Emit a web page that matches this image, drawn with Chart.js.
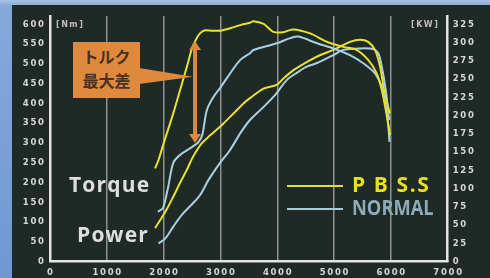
<!DOCTYPE html>
<html lang="ja">
<head>
<meta charset="UTF-8">
<title>Torque / Power</title>
<script src="https://cdn.jsdelivr.net/npm/chart.js"></script>
<style>
  html, body { margin: 0; padding: 0; }
  body { width: 490px; height: 278px; overflow: hidden; position: relative; background: linear-gradient(180deg, #a9c3e4 0px, #86a9da 6px, #6f98d2 100%); font-family: 'Open Sans', sans-serif; }
  .panel { position: absolute; left: 12px; top: 5px; right: 0; bottom: 0; background: #1f2a26; }
  #c { position: absolute; left: 0; top: 0; }
  .lbl { position: absolute; white-space: nowrap; line-height: 1; font-weight: bold; }
  .unit { font-family: 'DejaVu Sans', sans-serif; font-size: 8px; color: #bdbdbd; letter-spacing: 1.5px; }
  .big { font-size: 21px; color: #dedede; }
  .legline { position: absolute; height: 2px; width: 56px; left: 287px; }
  .box { position: absolute; left: 73px; top: 42px; width: 67px; height: 56px; background: #de8a3e; }
  .tip { position: absolute; left: 139px; top: 68px; width: 54px; height: 16px; background: #de8a3e; clip-path: polygon(0 0, 100% 55%, 0 100%); }
  .box span { display: block; text-align: center; font-family: 'Noto Sans CJK JP', sans-serif; font-weight: bold; font-size: 16px; color: #4b3020; line-height: 1; }
</style>
</head>
<body>
<div class="panel"></div>
<canvas id="c" width="490" height="278"></canvas>

<div class="lbl unit" style="left:56px; top:21px;">[Nm]</div>
<div class="lbl unit" style="left:411px; top:21px;">[KW]</div>

<div class="tip"></div>
<div class="box">
  <span style="margin-top:6px;">トルク</span>
  <span style="margin-top:8px;">最大差</span>
</div>

<div class="lbl big" style="left:69px; top:174px; letter-spacing:1.2px;">Torque</div>
<div class="lbl big" style="left:77px; top:224px; letter-spacing:1.2px;">Power</div>

<div class="legline" style="top:185px; background:#e4df2c;"></div>
<div class="legline" style="top:208px; background:#a9cadb;"></div>
<div class="lbl big" style="left:352px; top:174px; color:#e6df22; letter-spacing:1.6px;">P B S.S</div>
<div class="lbl big" style="left:352px; top:197px; color:#8eabbb; transform:scaleX(0.87); transform-origin:0 0;">NORMAL</div>

<script>
// torque [Nm], left axis
const torquePbssRpm = [1850, 1910, 2000, 2170, 2290, 2410, 2490, 2550, 2640, 2730, 2850, 2990, 3170, 3350, 3520, 3580, 3760, 3930, 4100, 4280, 4580, 4870, 5160, 5400, 5600, 5750, 5840, 5910, 5985];
const torquePbss = [236, 257, 299, 375, 434, 493, 535, 556, 577, 585, 584, 584, 590, 598, 604, 608, 601, 581, 580, 587, 577, 556, 543, 535, 510, 476, 434, 383, 320];

const torqueNormalRpm = [1900, 1990, 2080, 2170, 2290, 2470, 2610, 2680, 2760, 2880, 2990, 3170, 3350, 3520, 3580, 3820, 3990, 4230, 4370, 4700, 4990, 5280, 5520, 5720, 5840, 5910, 5950, 5975];
const torqueNormal = [126, 136, 189, 250, 270, 287, 302, 320, 383, 417, 438, 476, 510, 527, 535, 545, 552, 565, 569, 552, 539, 522, 501, 476, 442, 392, 350, 303];

// power [kW], right axis
const powerPbssRpm = [1850, 1940, 2050, 2170, 2290, 2410, 2520, 2670, 2820, 3050, 3230, 3410, 3520, 3760, 3990, 4110, 4280, 4580, 4760, 4990, 5280, 5460, 5600, 5720, 5810, 5880, 5980];
const powerPbss = [46, 57, 71, 89, 108, 126, 144, 162, 173, 189, 203, 217, 224, 237, 242, 251, 262, 276, 283, 290, 301, 304, 301, 290, 267, 235, 203];

const powerNormalRpm = [1910, 2030, 2170, 2320, 2490, 2640, 2790, 2990, 3170, 3350, 3520, 3760, 3960, 4170, 4370, 4520, 4700, 4990, 5160, 5460, 5690, 5780, 5840, 5910, 5950, 5970];
const powerNormal = [25, 32, 48, 64, 78, 91, 112, 135, 153, 176, 194, 212, 228, 249, 260, 267, 272, 283, 290, 292, 291, 285, 267, 235, 208, 194];

// max torque difference marker (rpm, from / to Nm)
const diffRpm = 2553;
const diffFrom = 300;
const diffTo = 558;

const yellow = '#e6e22e';
const blue = '#a9d0e2';

function pts(xs, ys) {
    return xs.map((x, i) => ({ x: x, y: ys[i] }));
}

function spaced(v) {
    return String(v).split('').join('\u2009');
}

const tickFont = { family: 'DejaVu Sans', weight: 'bold', size: 8.5 };
const tickColor = '#d6d6d6';
const axisColor = '#e4e4e4';

// orange double arrow
const diffArrow = {
    id: 'diffArrow',
    afterDatasetsDraw(chart) {
        const c = chart.ctx;
        const x = chart.scales.x.getPixelForValue(diffRpm);
        const yTop = chart.scales.y.getPixelForValue(diffTo);
        const yBot = chart.scales.y.getPixelForValue(diffFrom);
        c.save();
        c.fillStyle = '#e0883a';
        c.fillRect(x - 2, yTop + 6, 4, yBot - yTop - 12);
        c.beginPath();
        c.moveTo(x, yTop); c.lineTo(x - 6, yTop + 9); c.lineTo(x + 6, yTop + 9);
        c.closePath(); c.fill();
        c.beginPath();
        c.moveTo(x, yBot); c.lineTo(x - 6, yBot - 9); c.lineTo(x + 6, yBot - 9);
        c.closePath(); c.fill();
        c.restore();
    }
};

new Chart(document.getElementById('c'), {
    type: 'line',
    data: {
        datasets: [
            { label: 'Torque P B S.S', data: pts(torquePbssRpm, torquePbss), yAxisID: 'y', borderColor: yellow },
            { label: 'Torque NORMAL', data: pts(torqueNormalRpm, torqueNormal), yAxisID: 'y', borderColor: blue },
            { label: 'Power P B S.S', data: pts(powerPbssRpm, powerPbss), yAxisID: 'y2', borderColor: yellow },
            { label: 'Power NORMAL', data: pts(powerNormalRpm, powerNormal), yAxisID: 'y2', borderColor: blue }
        ]
    },
    options: {
        responsive: false,
        animation: false,
        devicePixelRatio: 1,
        layout: { padding: { top: 16, left: 0, right: 0, bottom: 0 } },
        plugins: { legend: { display: false }, tooltip: { enabled: false } },
        elements: { point: { radius: 0 }, line: { borderWidth: 2, tension: 0.3 } },
        scales: {
            x: {
                type: 'linear', min: 0, max: 7000,
                ticks: { stepSize: 1000, color: tickColor, font: tickFont, padding: 6, maxRotation: 0, callback: v => spaced(v) },
                grid: { drawTicks: false, lineWidth: 1.5, color: ctx => (ctx.tick && (ctx.tick.value === 0 || ctx.tick.value === 7000)) ? 'rgba(0,0,0,0)' : '#8d918f' },
                border: { display: true, color: axisColor, width: 2.5 },
                afterFit: s => { s.height = 16.3; }
            },
            y: {
                position: 'left', min: 0, max: 621,
                ticks: { stepSize: 50, includeBounds: false, color: tickColor, font: tickFont, padding: 6, callback: v => spaced(v) },
                grid: { display: false, drawTicks: false },
                border: { display: true, color: axisColor, width: 2.5 },
                afterFit: s => { s.width = 50; }
            },
            y2: {
                position: 'right', min: 0, max: 336.4,
                ticks: { stepSize: 25, includeBounds: false, color: tickColor, font: tickFont, padding: 5, callback: v => spaced(v) },
                grid: { display: false, drawTicks: false },
                border: { display: true, color: axisColor, width: 2.5 },
                afterFit: s => { s.width = 42.3; }
            }
        }
    },
    plugins: [diffArrow]
});
</script>
</body>
</html>
